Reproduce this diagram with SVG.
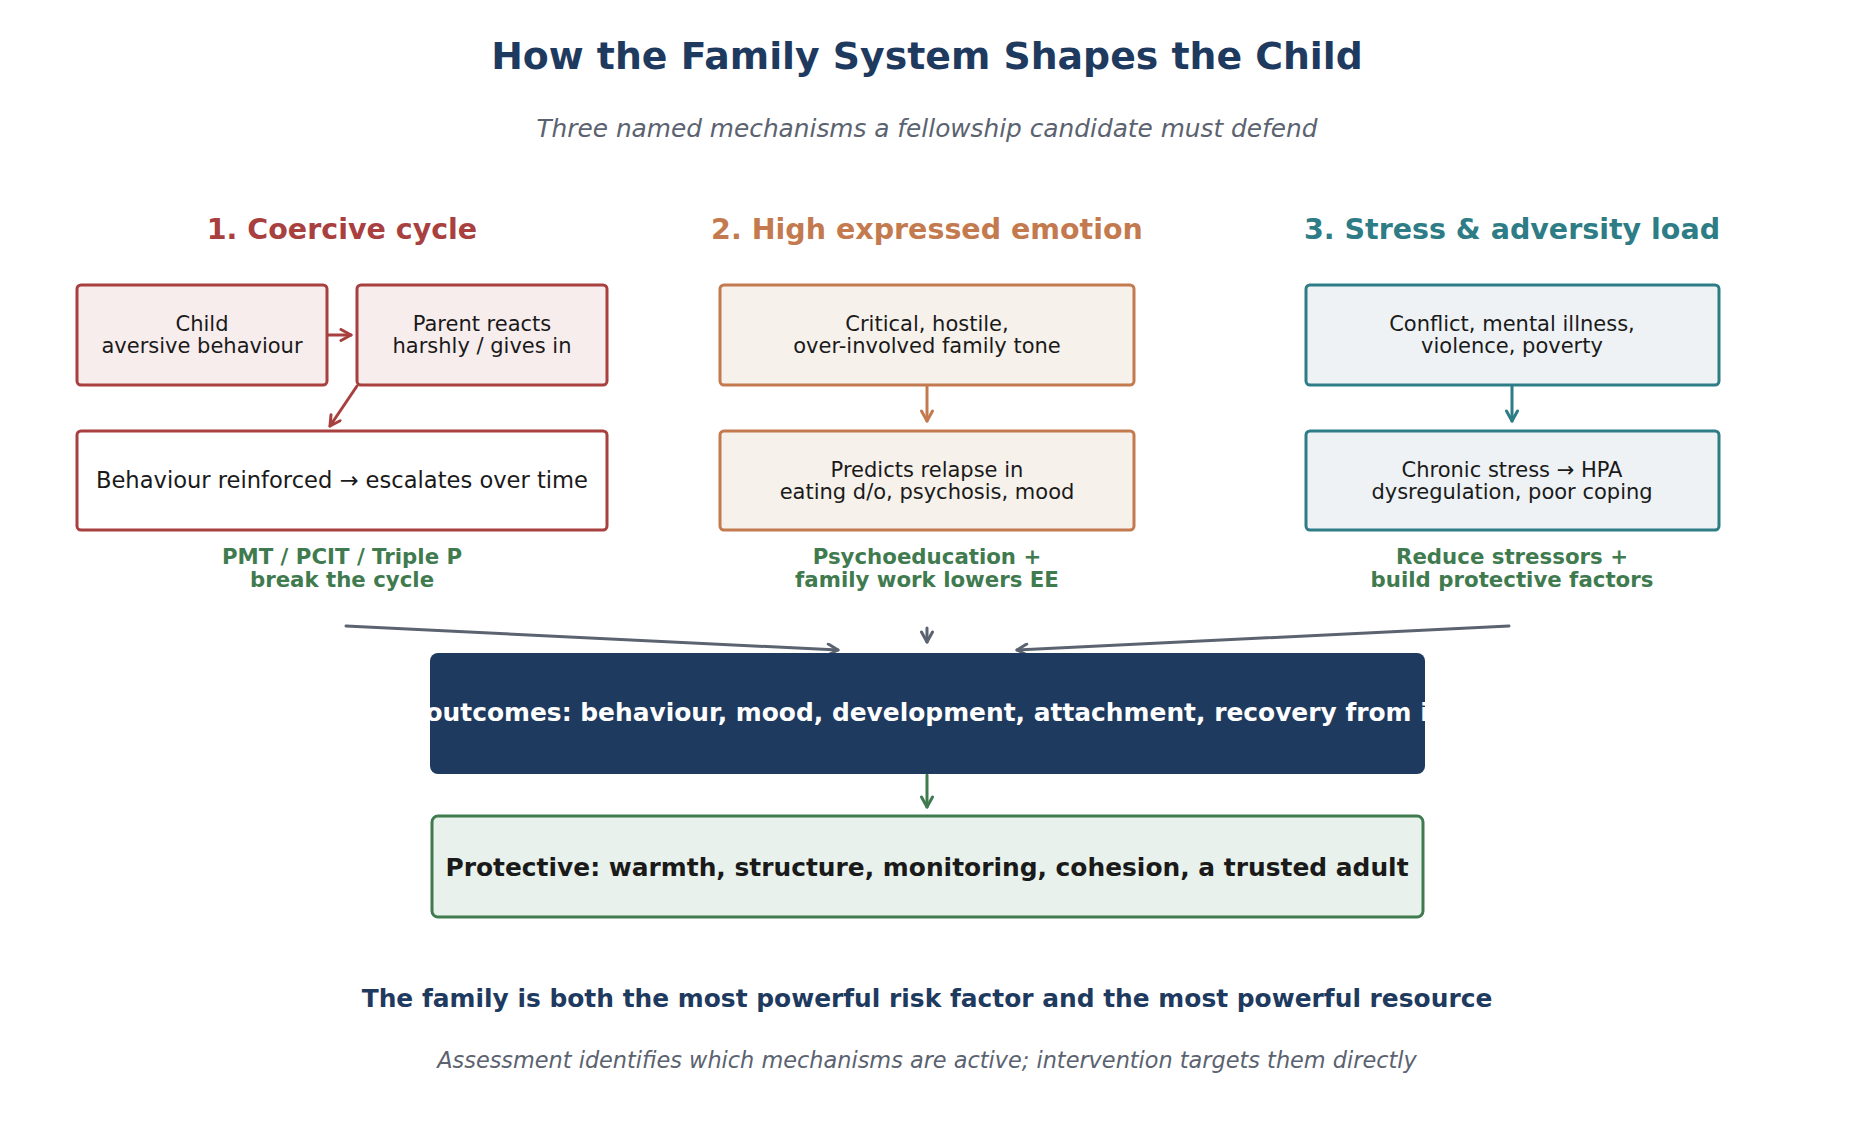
<svg xmlns="http://www.w3.org/2000/svg" width="1854" height="1140" viewBox="0 0 1854 1140">
<style>
text{font-family:"DejaVu Sans","Liberation Sans",sans-serif;text-anchor:middle}
.title{font-size:37.8px;font-weight:bold;fill:#1f3a5f}
.sub{font-size:24.8px;font-style:italic;fill:#5b6270}
.hdr{font-size:28.5px;font-weight:bold}
.bt{font-size:21px;fill:#1a1a1a}
.gl{font-size:21.3px;font-weight:bold;fill:#3f7b4f}
.red{fill:#f8eded;stroke:#a8403f;stroke-width:3}
.org{fill:#f6f1eb;stroke:#c47a4f;stroke-width:3}
.teal{fill:#eef2f5;stroke:#2d7c86;stroke-width:3}
.con{fill:none;stroke-width:3;stroke-linecap:round}
</style>
<defs>
<marker id="mr" viewBox="0 0 14 14" refX="12" refY="7" markerWidth="14" markerHeight="14" markerUnits="userSpaceOnUse" orient="auto"><path d="M2,1.5 L12,7 L2,12.5" fill="none" stroke="#a8403f" stroke-width="3" stroke-linecap="round" stroke-linejoin="round"/></marker>
<marker id="mo" viewBox="0 0 14 14" refX="12" refY="7" markerWidth="14" markerHeight="14" markerUnits="userSpaceOnUse" orient="auto"><path d="M2,1.5 L12,7 L2,12.5" fill="none" stroke="#c47a4f" stroke-width="3" stroke-linecap="round" stroke-linejoin="round"/></marker>
<marker id="mt" viewBox="0 0 14 14" refX="12" refY="7" markerWidth="14" markerHeight="14" markerUnits="userSpaceOnUse" orient="auto"><path d="M2,1.5 L12,7 L2,12.5" fill="none" stroke="#2d7c86" stroke-width="3" stroke-linecap="round" stroke-linejoin="round"/></marker>
<marker id="mg" viewBox="0 0 14 14" refX="12" refY="7" markerWidth="14" markerHeight="14" markerUnits="userSpaceOnUse" orient="auto"><path d="M2,1.5 L12,7 L2,12.5" fill="none" stroke="#5b6270" stroke-width="3" stroke-linecap="round" stroke-linejoin="round"/></marker>
<marker id="mgr" viewBox="0 0 14 14" refX="12" refY="7" markerWidth="14" markerHeight="14" markerUnits="userSpaceOnUse" orient="auto"><path d="M2,1.5 L12,7 L2,12.5" fill="none" stroke="#3f7b4f" stroke-width="3" stroke-linecap="round" stroke-linejoin="round"/></marker>
<clipPath id="clipOut"><rect x="430" y="653" width="995" height="121" rx="8"/></clipPath>
</defs>
<rect width="1854" height="1140" fill="#ffffff"/>

<g id="title">
<text class="title" x="927" y="69">How the Family System Shapes the Child</text>
<text class="sub" x="927" y="137">Three named mechanisms a fellowship candidate must defend</text>
</g>

<g id="headers">
<text class="hdr" x="342" y="239" fill="#a8403f">1. Coercive cycle</text>
<text class="hdr" x="927" y="239" fill="#c47a4f">2. High expressed emotion</text>
<text class="hdr" x="1512" y="239" fill="#2d7c86">3. Stress &amp; adversity load</text>
</g>

<g id="connectors">
<line class="con" x1="327" y1="335" x2="351" y2="335" stroke="#a8403f" marker-end="url(#mr)"/>
<line class="con" x1="357" y1="386" x2="330" y2="426" stroke="#a8403f" marker-end="url(#mr)"/>
<line class="con" x1="927" y1="386" x2="927" y2="421" stroke="#c47a4f" marker-end="url(#mo)"/>
<line class="con" x1="1512" y1="386" x2="1512" y2="421" stroke="#2d7c86" marker-end="url(#mt)"/>
<line class="con" x1="346" y1="626" x2="838" y2="650" stroke="#5b6270" marker-end="url(#mg)"/>
<line class="con" x1="927" y1="628" x2="927" y2="642" stroke="#5b6270" marker-end="url(#mg)"/>
<line class="con" x1="1509" y1="626" x2="1017" y2="650" stroke="#5b6270" marker-end="url(#mg)"/>
<line class="con" x1="927" y1="775" x2="927" y2="807" stroke="#3f7b4f" marker-end="url(#mgr)"/>
</g>

<g id="node-child">
<rect class="red" x="77" y="285" width="250" height="100" rx="4"/>
<text class="bt" x="202" y="331">Child</text>
<text class="bt" x="202" y="353">aversive behaviour</text>
</g>
<g id="node-parent">
<rect class="red" x="357" y="285" width="250" height="100" rx="4"/>
<text class="bt" x="482" y="331">Parent reacts</text>
<text class="bt" x="482" y="353">harshly / gives in</text>
</g>
<g id="node-reinforced">
<rect x="77" y="431" width="530" height="99" rx="4" fill="#ffffff" stroke="#a8403f" stroke-width="3"/>
<text class="bt" x="342" y="488" style="font-size:22.6px">Behaviour reinforced → escalates over time</text>
</g>
<g id="label-1">
<text class="gl" x="342" y="564">PMT / PCIT / Triple P</text>
<text class="gl" x="342" y="587">break the cycle</text>
</g>

<g id="node-critical">
<rect class="org" x="720" y="285" width="414" height="100" rx="4"/>
<text class="bt" x="927" y="331">Critical, hostile,</text>
<text class="bt" x="927" y="353">over-involved family tone</text>
</g>
<g id="node-relapse">
<rect class="org" x="720" y="431" width="414" height="99" rx="4"/>
<text class="bt" x="927" y="477">Predicts relapse in</text>
<text class="bt" x="927" y="499">eating d/o, psychosis, mood</text>
</g>
<g id="label-2">
<text class="gl" x="927" y="564">Psychoeducation +</text>
<text class="gl" x="927" y="587">family work lowers EE</text>
</g>

<g id="node-conflict">
<rect class="teal" x="1306" y="285" width="413" height="100" rx="4"/>
<text class="bt" x="1512" y="331">Conflict, mental illness,</text>
<text class="bt" x="1512" y="353">violence, poverty</text>
</g>
<g id="node-chronic">
<rect class="teal" x="1306" y="431" width="413" height="99" rx="4"/>
<text class="bt" x="1512" y="477">Chronic stress → HPA</text>
<text class="bt" x="1512" y="499">dysregulation, poor coping</text>
</g>
<g id="label-3">
<text class="gl" x="1512" y="564">Reduce stressors +</text>
<text class="gl" x="1512" y="587">build protective factors</text>
</g>

<g id="node-outcomes">
<rect x="430" y="653" width="995" height="121" rx="8" fill="#1f3a5f"/>
<text x="928" y="721" clip-path="url(#clipOut)" style="font-size:24.9px;font-weight:bold;fill:#ffffff">Child outcomes: behaviour, mood, development, attachment, recovery from illness</text>
</g>

<g id="node-protective">
<rect x="432" y="816" width="991" height="101" rx="6" fill="#e8f1eb" stroke="#3f7b4f" stroke-width="3"/>
<text x="927" y="876" style="font-size:24.9px;font-weight:bold;fill:#1a1a1a">Protective: warmth, structure, monitoring, cohesion, a trusted adult</text>
</g>

<g id="footer">
<text x="927" y="1007" style="font-size:24.9px;font-weight:bold;fill:#1f3a5f">The family is both the most powerful risk factor and the most powerful resource</text>
<text x="927" y="1068" style="font-size:22.4px;font-style:italic;fill:#5b6270">Assessment identifies which mechanisms are active; intervention targets them directly</text>
</g>
</svg>
